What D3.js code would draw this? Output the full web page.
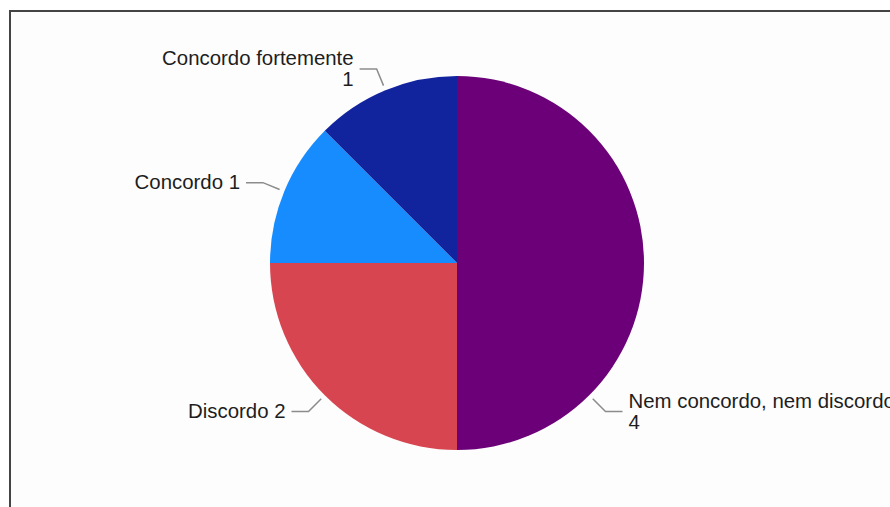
<!DOCTYPE html>
<html>
<head>
<meta charset="utf-8">
<script src="https://cdn.jsdelivr.net/npm/d3@7"></script>
<style>
  html, body { margin: 0; padding: 0; background: #fff; }
  svg { display: block; }
</style>
</head>
<body>
<svg id="chart" width="890" height="507"></svg>
<script>
// Survey answers and their counts, in drawing order (clockwise from 12 o'clock)
const categories = ["Nem concordo, nem discordo", "Discordo", "Concordo", "Concordo fortemente"];
const counts = [4, 2, 1, 1];
const sliceColors = ["#6c0078", "#d64550", "#168cff", "#12239e"];

const width = 890, height = 507;
const cx = 457, cy = 263, radius = 187;

const svg = d3.select("#chart");

// outer frame, running off the right and bottom edges
svg.append("rect")
  .attr("x", 10).attr("y", 11)
  .attr("width", width + 20).attr("height", height + 20)
  .attr("fill", "#fdfdfd")
  .attr("stroke", "#444").attr("stroke-width", 2);

const data = categories.map((c, i) => ({ label: c, value: counts[i], color: sliceColors[i] }));

const pie = d3.pie().sort(null).value(d => d.value);
const arcs = pie(data);
const arc = d3.arc().innerRadius(0).outerRadius(radius);

const g = svg.append("g").attr("transform", `translate(${cx},${cy})`);

g.selectAll("path.slice")
  .data(arcs)
  .join("path")
  .attr("class", "slice")
  .attr("d", arc)
  .attr("fill", d => d.data.color);

// Leader anchor: the middle of a slice, or 45° before its end for slices wider than a quarter
function anchorAngle(d) {
  const span = d.endAngle - d.startAngle;
  return span > Math.PI / 2 ? d.endAngle - Math.PI / 4 : (d.startAngle + d.endAngle) / 2;
}
const pt = (a, r) => [Math.sin(a) * r, -Math.cos(a) * r];

const fontSize = 20.4, lineH = 21;

arcs.forEach(d => {
  const a = anchorAngle(d);
  const p0 = pt(a, radius + 5);
  const p1 = pt(a, radius + 23);
  const right = Math.sin(a) > 0;
  const p2 = [p1[0] + (right ? 17 : -17), p1[1]];

  g.append("polyline")
    .attr("points", [p0, p1, p2].map(p => p.join(",")).join(" "))
    .attr("fill", "none")
    .attr("stroke", "#8c8c8c")
    .attr("stroke-width", 1.5);

  // two-line labels for long names, a single line otherwise
  const lines = d.data.label.length > 12
    ? [d.data.label, String(d.data.value)]
    : [d.data.label + " " + d.data.value];

  const tx = p2[0] + (right ? 6 : -6);
  const top = p2[1] - (lines.length - 1) * lineH / 2;
  const text = g.append("text")
    .attr("font-family", "Liberation Sans, Arial, sans-serif")
    .attr("font-size", fontSize)
    .attr("fill", "#1e1e1e")
    .attr("text-anchor", right ? "start" : "end");
  lines.forEach((ln, i) => {
    text.append("tspan")
      .attr("x", tx)
      .attr("y", top + i * lineH)
      .attr("dy", "0.33em")
      .text(ln);
  });
});
</script>
</body>
</html>
